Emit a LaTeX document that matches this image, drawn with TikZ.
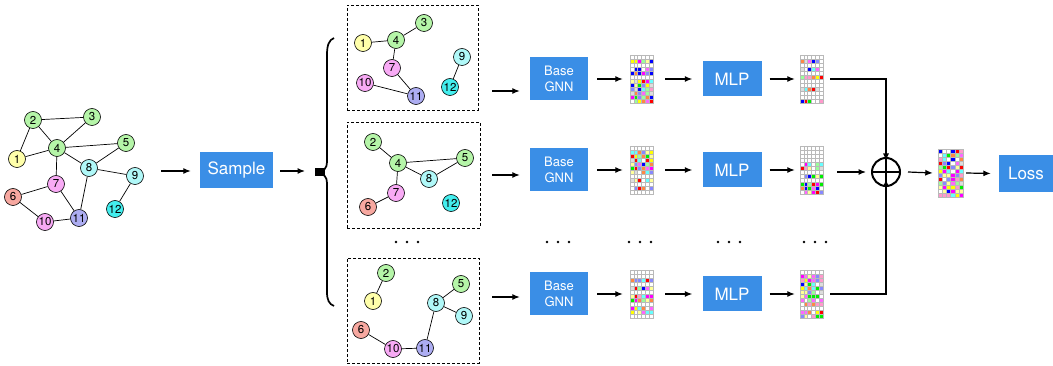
\documentclass[tikz,border=0pt]{standalone}
\usepackage{fontspec}
\setmainfont{TeX Gyre Heros}
\usetikzlibrary{arrows.meta,calc}
\definecolor{gnnblue}{HTML}{3A8EE6}
\definecolor{nyellow}{HTML}{FFFFAA}
\definecolor{ngreen}{HTML}{B5F5A8}
\definecolor{nsalmon}{HTML}{F7A8A0}
\definecolor{npink}{HTML}{F8AAF5}
\definecolor{ncyan}{HTML}{B0F8F8}
\definecolor{nlav}{HTML}{ADADF2}
\definecolor{ncyand}{HTML}{44EEEE}
\definecolor{cA}{HTML}{FFFF99}
\definecolor{cB}{HTML}{99FF99}
\definecolor{cC}{HTML}{FF66FF}
\definecolor{cD}{HTML}{0000FF}
\definecolor{cE}{HTML}{FF0000}
\definecolor{cF}{HTML}{FF8844}
\definecolor{cG}{HTML}{66FFFF}
\definecolor{cH}{HTML}{FF99CC}
\definecolor{cI}{HTML}{8888FF}
\definecolor{cJ}{HTML}{00EE00}
\definecolor{cK}{HTML}{FF00FF}
\definecolor{cL}{HTML}{FFFF00}
\definecolor{cM}{HTML}{DDDDDD}
\pgfmathdeclarerandomlist{featcols}{{cA}{cB}{cC}{cD}{cE}{cF}{cG}{cH}{cI}{cJ}{cK}{cL}{cM}{white}{white}}
\newcommand{\featmat}[6]{%
  \node[draw=gray!70, line width=0.4pt, minimum width=#6, minimum height=48pt, inner sep=0pt] (#1) at (#2,#3) {};
  \pgfmathsetseed{#4}%
  \begin{scope}[shift={(#2-#6/2,#3-24)}]
  \foreach \r in {0,...,11}{%
    \pgfmathrandominteger{\rw}{0}{9}%
    \foreach \c in {0,...,5}{%
      \pgfmathrandomitem{\col}{featcols}%
      \ifnum\rw<#5\relax\def\col{white}\fi
      \filldraw[fill=\col, draw=gray!55, line width=0.35pt] (\c*#6/6,\r*4) rectangle ++(#6/6,4);
    }%
  }%
  \end{scope}%
}
\tikzset{
  gnode/.style={circle, draw, line width=0.6pt, minimum size=17pt, inner sep=0pt,
    font=\fontsize{11.5}{11.5}\selectfont},
  gedge/.style={line width=0.7pt},
  dbox/.style={draw, line width=0.7pt, dash pattern=on 3pt off 2pt, inner sep=0pt},
  bluebox/.style={fill=gnnblue, text=white, inner sep=0pt, align=center},
  arr/.style={line width=1.2pt, -{Latex[length=7.5pt,width=6pt]}},
}
\begin{document}
\begin{tikzpicture}[x=1pt,y=-1pt]
\useasboundingbox (0,0) rectangle (1053,366);
% ---------- main graph ----------
\node[gnode, fill=nyellow] (m1) at (17,159) {1};
\node[gnode, fill=ngreen] (m2) at (33,120) {2};
\node[gnode, fill=ngreen] (m3) at (92,117) {3};
\node[gnode, fill=ngreen] (m4) at (57,148) {4};
\node[gnode, fill=ngreen] (m5) at (126,143) {5};
\node[gnode, fill=nsalmon] (m6) at (13,197) {6};
\node[gnode, fill=npink] (m7) at (56,184) {7};
\node[gnode, fill=ncyan] (m8) at (89,168) {8};
\node[gnode, fill=ncyan] (m9) at (135,176) {9};
\node[gnode, fill=npink] (m10) at (45,222) {10};
\node[gnode, fill=nlav] (m11) at (79,218) {11};
\node[gnode, fill=ncyand] (m12) at (115,209) {12};
\foreach \a/\b in {2/3,2/4,2/1,1/4,3/4,4/5,4/8,4/7,5/8,8/9,8/11,9/12,7/6,7/11,6/10,10/11}
  \draw[gedge] (m\a) -- (m\b);
% ---------- sample ----------
\coordinate (gout) at (161,171);
\node[bluebox, minimum width=73pt, minimum height=36pt, font=\fontsize{17}{17}\selectfont] (sample) at (236.5,170) {Sample};
\draw[arr] (gout) -- ([xshift=-9pt]sample.west |- gout);
\coordinate (bin) at (305,171);
\draw[arr] ([xshift=7pt]sample.east |- bin) -- (bin);
% ---------- brace ----------
\draw[line width=1.7pt] (334,38) .. controls (329,40) and (327,45) .. (327,55) -- (327,162)
  .. controls (327,168) and (324,171) .. (318,172.5)
  .. controls (324,174) and (327,177) .. (327,183) -- (327,292)
  .. controls (327,300) and (329,304) .. (334,306);
\fill (315,168.5) rectangle (325,176.5);
% ---------- dashed boxes ----------
\node[dbox, minimum width=131pt, minimum height=105pt] (box1) at (412.5,57.5) {};
\node[dbox, minimum width=133pt, minimum height=106pt] (box2) at (413.5,175) {};
\node[dbox, minimum width=132pt, minimum height=105pt] (box3) at (413,310.5) {};
% box 1
\node[gnode, fill=nyellow] (a1) at (363,43) {1};
\node[gnode, fill=ngreen] (a4) at (396,40) {4};
\node[gnode, fill=ngreen] (a3) at (424,23) {3};
\node[gnode, fill=npink] (a7) at (392,68) {7};
\node[gnode, fill=npink] (a10) at (365,83) {10};
\node[gnode, fill=nlav] (a11) at (416,96) {11};
\node[gnode, fill=ncyan] (a9) at (462,57) {9};
\node[gnode, fill=ncyand] (a12) at (450,87) {12};
\foreach \a/\b in {1/4,4/3,4/7,7/11,10/11,9/12}
  \draw[gedge] (a\a) -- (a\b);
% box 2
\node[gnode, fill=ngreen] (b2) at (373,142) {2};
\node[gnode, fill=ngreen] (b4) at (398,163) {4};
\node[gnode, fill=ngreen] (b5) at (465,158) {5};
\node[gnode, fill=ncyan] (b8) at (429,179) {8};
\node[gnode, fill=npink] (b7) at (396,193) {7};
\node[gnode, fill=nsalmon] (b6) at (368,207) {6};
\node[gnode, fill=ncyand] (b12) at (451,203) {12};
\foreach \a/\b in {2/4,4/5,4/8,8/5,4/7,7/6}
  \draw[gedge] (b\a) -- (b\b);
% box 3
\node[gnode, fill=ngreen] (c2) at (386,273) {2};
\node[gnode, fill=nyellow] (c1) at (373,301) {1};
\node[gnode, fill=ngreen] (c5) at (461,284) {5};
\node[gnode, fill=ncyan] (c8) at (436,303) {8};
\node[gnode, fill=ncyan] (c9) at (464,316) {9};
\node[gnode, fill=nsalmon] (c6) at (361,330) {6};
\node[gnode, fill=npink] (c10) at (393,349) {10};
\node[gnode, fill=nlav] (c11) at (425,348) {11};
\foreach \a/\b in {2/1,5/8,8/9,8/11,11/10,10/6}
  \draw[gedge] (c\a) -- (c\b);
% ---------- pipeline rows ----------
\foreach \i/\y/\ay/\s/\t in {1/79/91/11/21, 2/170/175/12/22, 3/294/297/13/23}{
  \node[bluebox, minimum width=58pt, minimum height=43pt, font=\fontsize{13}{15.5}\selectfont] (g\i) at (559,\y) {Base\\GNN};
  \coordinate (in\i) at (492,\ay);
  \draw[arr] (in\i) -- ([xshift=-10pt]in\i -| g\i.west) ;
  \featmat{fa\i}{641.5}{\y}{\s}{4}{23}
  \draw[arr] ([xshift=9pt]g\i.east) -- ([xshift=-7pt]fa\i.west);
  \node[bluebox, minimum width=59pt, minimum height=35pt, font=\fontsize{17}{17}\selectfont] (p\i) at (732,\y) {MLP};
  \draw[arr] ([xshift=12pt]fa\i.east) -- ([xshift=-10pt]p\i.west);
  \featmat{fb\i}{811.5}{\y}{\t}{4}{23}
  \draw[arr] ([xshift=8pt]p\i.east) -- ([xshift=-5pt]fb\i.west);
}
% ---------- sum ----------
\node[circle, draw, line width=2pt, minimum size=28pt, inner sep=0pt] (plus) at (886,172) {};
\draw[line width=2pt] (plus.north) -- (plus.south) (plus.west) -- (plus.east);
\draw[arr] ([xshift=7pt]fb1.east) -| ([yshift=-4pt]plus.north);
\draw[arr] ([xshift=14pt]fb2.east |- plus) -- ([xshift=-5pt]plus.west);
\draw[arr] ([xshift=7pt]fb3.east) -| ([yshift=8pt]plus.south);
\featmat{fc}{950.5}{173}{31}{-1}{25}
\draw[arr] ([xshift=7pt]plus.east) -- ([xshift=-5pt]fc.west);
\node[bluebox, minimum width=54pt, minimum height=37pt, font=\fontsize{17}{17}\selectfont] (loss) at (1026,173.5) {Loss};
\draw[arr] ([xshift=3pt]fc.east) -- ([xshift=-8pt]loss.west);
% ---------- ellipses ----------
\foreach \x in {407,558,640,729,815}
  \foreach \d in {-11,0,11}
    \fill (\x+\d,242) circle (1.4pt);
\end{tikzpicture}
\end{document}
